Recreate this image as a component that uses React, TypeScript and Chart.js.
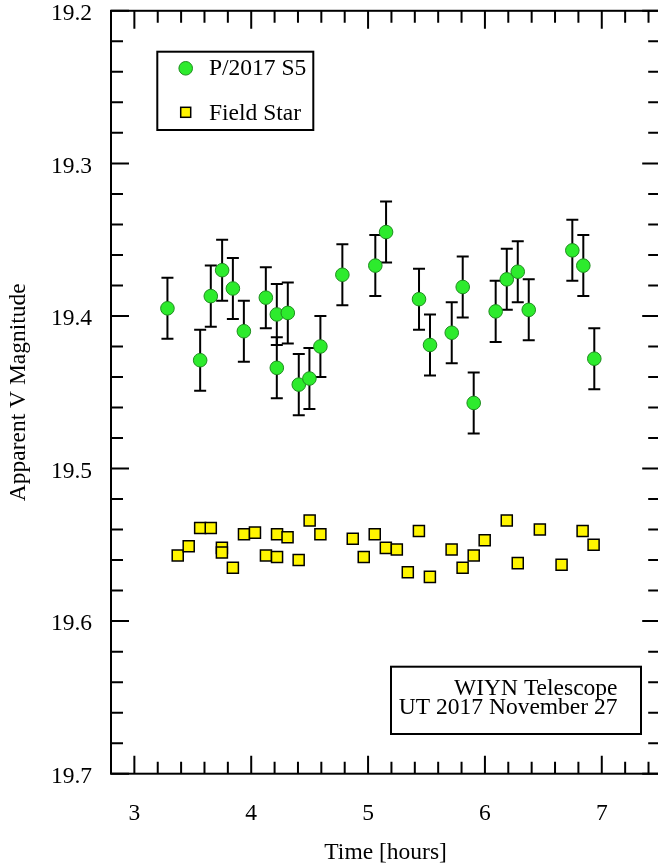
import { useEffect, useRef } from "react";
import { Chart, registerables } from "chart.js";

Chart.register(...registerables);

// ---------- data ----------
const cometTime = [3.283, 3.563, 3.654, 3.751, 3.843, 3.937, 4.125, 4.219, 4.219, 4.313, 4.407, 4.498, 4.592, 4.780, 5.062, 5.154, 5.436, 5.530, 5.716, 5.810, 5.904, 6.092, 6.187, 6.281, 6.375, 6.748, 6.842, 6.936];
const cometMag = [19.395, 19.429, 19.387, 19.370, 19.382, 19.410, 19.388, 19.399, 19.434, 19.398, 19.445, 19.441, 19.420, 19.373, 19.367, 19.345, 19.389, 19.419, 19.411, 19.381, 19.457, 19.397, 19.376, 19.371, 19.396, 19.357, 19.367, 19.428];
const cometErr = [0.02, 0.02, 0.02, 0.02, 0.02, 0.02, 0.02, 0.02, 0.02, 0.02, 0.02, 0.02, 0.02, 0.02, 0.02, 0.02, 0.02, 0.02, 0.02, 0.02, 0.02, 0.02, 0.02, 0.02, 0.02, 0.02, 0.02, 0.02];

const starTime = [3.371, 3.465, 3.563, 3.654, 3.749, 3.749, 3.843, 3.938, 4.032, 4.126, 4.221, 4.221, 4.311, 4.406, 4.500, 4.592, 4.869, 4.963, 5.057, 5.152, 5.246, 5.340, 5.435, 5.529, 5.715, 5.809, 5.904, 5.998, 6.187, 6.281, 6.470, 6.656, 6.836, 6.930];
const starMag = [19.557, 19.551, 19.539, 19.539, 19.552, 19.555, 19.565, 19.543, 19.542, 19.557, 19.543, 19.558, 19.545, 19.560, 19.534, 19.543, 19.546, 19.558, 19.543, 19.552, 19.553, 19.568, 19.541, 19.571, 19.553, 19.565, 19.557, 19.547, 19.534, 19.562, 19.540, 19.563, 19.541, 19.550];

const xMajorTicks = [3, 4, 5, 6, 7];
const xMinorTicks = [3.2, 3.4, 3.6, 3.8, 4.2, 4.4, 4.6, 4.8, 5.2, 5.4, 5.6, 5.8, 6.2, 6.4, 6.6, 6.8, 7.2, 7.4];
const yMajorTicks = [19.2, 19.3, 19.4, 19.5, 19.6, 19.7];
const yMinorTicks = [19.22, 19.24, 19.26, 19.28, 19.32, 19.34, 19.36, 19.38, 19.42, 19.44, 19.46, 19.48, 19.52, 19.54, 19.56, 19.58, 19.62, 19.64, 19.66, 19.68];

const seriesNames = ["P/2017 S5", "Field Star"];
const annotationLines = ["WIYN Telescope", "UT 2017 November 27"];
const xTitle = "Time [hours]";
const yTitle = "Apparent V Magnitude";

const FONT = "'Liberation Serif', 'Times New Roman', serif";
const FS = 23.5;
const GREEN = "#2DEB2D";
const GREEN_EDGE = "#1E8C1E";
const YELLOW = "#FFF500";

const SHIFT = 40; // canvas shifted up to avoid auto padding

const decorPlugin = {
  id: "decor",
  beforeDatasetsDraw(chart: any) {
    const ctx = chart.ctx;
    const xs = chart.scales.x;
    const ys = chart.scales.y;
    ctx.save();
    ctx.strokeStyle = "#000";
    ctx.lineWidth = 2;
    const cap = 6;
    cometTime.forEach((t, i) => {
      const px = xs.getPixelForValue(t);
      const y1 = ys.getPixelForValue(cometMag[i] - cometErr[i]);
      const y2 = ys.getPixelForValue(cometMag[i] + cometErr[i]);
      ctx.beginPath();
      ctx.moveTo(px, y1);
      ctx.lineTo(px, y2);
      ctx.moveTo(px - cap, y1);
      ctx.lineTo(px + cap, y1);
      ctx.moveTo(px - cap, y2);
      ctx.lineTo(px + cap, y2);
      ctx.stroke();
    });
    ctx.restore();
  },
  afterDraw(chart: any) {
    const ctx = chart.ctx;
    const ca = chart.chartArea;
    const xs = chart.scales.x;
    const ys = chart.scales.y;
    ctx.save();
    ctx.strokeStyle = "#000";
    ctx.lineWidth = 2;
    ctx.strokeRect(ca.left, ca.top, ca.right - ca.left, ca.bottom - ca.top);

    const MAJ = 18;
    const MIN = 12;
    ctx.beginPath();
    const xt = (v: number, len: number) => {
      const p = xs.getPixelForValue(v);
      ctx.moveTo(p, ca.bottom);
      ctx.lineTo(p, ca.bottom - len);
      ctx.moveTo(p, ca.top);
      ctx.lineTo(p, ca.top + len);
    };
    const yt = (v: number, len: number) => {
      const p = ys.getPixelForValue(v);
      ctx.moveTo(ca.left, p);
      ctx.lineTo(ca.left + len, p);
      ctx.moveTo(ca.right, p);
      ctx.lineTo(ca.right - len, p);
    };
    xMajorTicks.forEach((v) => xt(v, MAJ));
    xMinorTicks.forEach((v) => xt(v, MIN));
    yMajorTicks.forEach((v) => yt(v, MAJ));
    yMinorTicks.forEach((v) => yt(v, MIN));
    ctx.stroke();

    // legend box
    const lx = ca.left + 46.3;
    const ly = ca.top + 40.9;
    ctx.lineWidth = 2;
    ctx.strokeRect(lx, ly, 156, 78.3);
    // circle marker
    ctx.beginPath();
    ctx.arc(ca.left + 74.7, ca.top + 57.5, 6.8, 0, Math.PI * 2);
    ctx.fillStyle = GREEN;
    ctx.fill();
    ctx.lineWidth = 1;
    ctx.strokeStyle = GREEN_EDGE;
    ctx.stroke();
    // square marker
    ctx.fillStyle = YELLOW;
    ctx.strokeStyle = "#000";
    ctx.lineWidth = 1.5;
    ctx.fillRect(ca.left + 74.7 - 5, ca.top + 101.5 - 5, 10, 10);
    ctx.strokeRect(ca.left + 74.7 - 5, ca.top + 101.5 - 5, 10, 10);

    ctx.fillStyle = "#000";
    ctx.font = `${FS}px ${FONT}`;
    ctx.textAlign = "left";
    ctx.textBaseline = "alphabetic";
    ctx.fillText(seriesNames[0], ca.left + 98, ca.top + 64.5);
    ctx.fillText(seriesNames[1], ca.left + 98, ca.top + 109.5);

    // annotation box
    ctx.lineWidth = 2;
    ctx.strokeRect(ca.left + 280, ca.top + 655.9, 250, 67.3);
    ctx.textAlign = "right";
    ctx.fillText(annotationLines[0], ca.left + 506.5, ca.top + 684);
    ctx.fillText(annotationLines[1], ca.left + 506.5, ca.top + 703);
    ctx.restore();
  },
};

export default function App() {
  const ref = useRef<HTMLCanvasElement | null>(null);
  useEffect(() => {
    if (!ref.current) return;
    const chart = new Chart(ref.current, {
      type: "scatter",
      data: {
        datasets: [
          {
            label: seriesNames[0],
            data: cometTime.map((t, i) => ({ x: t, y: cometMag[i] })),
            pointStyle: "circle",
            pointRadius: 6.8,
            backgroundColor: GREEN,
            borderColor: GREEN_EDGE,
            borderWidth: 1,
          },
          {
            label: seriesNames[1],
            data: starTime.map((t, i) => ({ x: t, y: starMag[i] })),
            pointStyle: "rect",
            pointRadius: 7.8,
            backgroundColor: YELLOW,
            borderColor: "#000",
            borderWidth: 1.5,
          },
        ],
      },
      options: {
        responsive: false,
        animation: false,
        events: [],
        devicePixelRatio: 1,
        layout: { padding: { left: 0, right: 19.8, top: 10.8 + SHIFT, bottom: 0 } },
        plugins: { legend: { display: false }, tooltip: { enabled: false } },
        scales: {
          x: {
            type: "linear",
            min: 2.8,
            max: 7.5,
            grid: { display: false, drawTicks: false, tickLength: 0 },
            border: { display: false },
            afterBuildTicks: (s: any) => {
              s.ticks = xMajorTicks.map((v) => ({ value: v }));
            },
            afterFit: (s: any) => {
              s.height = 93.3;
            },
            ticks: {
              padding: 26,
              color: "#000",
              font: { family: FONT, size: FS },
              callback: (v: any) => String(v),
            },
            title: {
              display: true,
              text: xTitle,
              color: "#000",
              font: { family: FONT, size: FS },
              padding: { top: 0, bottom: 0 },
            },
          },
          y: {
            type: "linear",
            reverse: true,
            min: 19.2,
            max: 19.7,
            grid: { display: false, drawTicks: false, tickLength: 0 },
            border: { display: false },
            afterBuildTicks: (s: any) => {
              s.ticks = yMajorTicks.map((v) => ({ value: v }));
            },
            afterFit: (s: any) => {
              s.width = 111;
            },
            ticks: {
              padding: 19,
              labelOffset: 3,
              color: "#000",
              font: { family: FONT, size: FS },
              callback: (v: any) => Number(v).toFixed(1),
            },
            title: {
              display: true,
              text: yTitle,
              color: "#000",
              font: { family: FONT, size: FS },
              padding: { top: 5, bottom: 0 },
            },
          },
        },
      },
      plugins: [decorPlugin],
    });
    return () => chart.destroy();
  }, []);

  return (
    <div style={{ position: "absolute", left: 0, top: 0, width: 658, height: 867, overflow: "hidden", background: "#fff" }}>
      <canvas
        ref={ref}
        width={680}
        height={867 + SHIFT}
        style={{ position: "absolute", left: 0, top: -SHIFT, width: 680, height: 867 + SHIFT }}
      />
    </div>
  );
}
